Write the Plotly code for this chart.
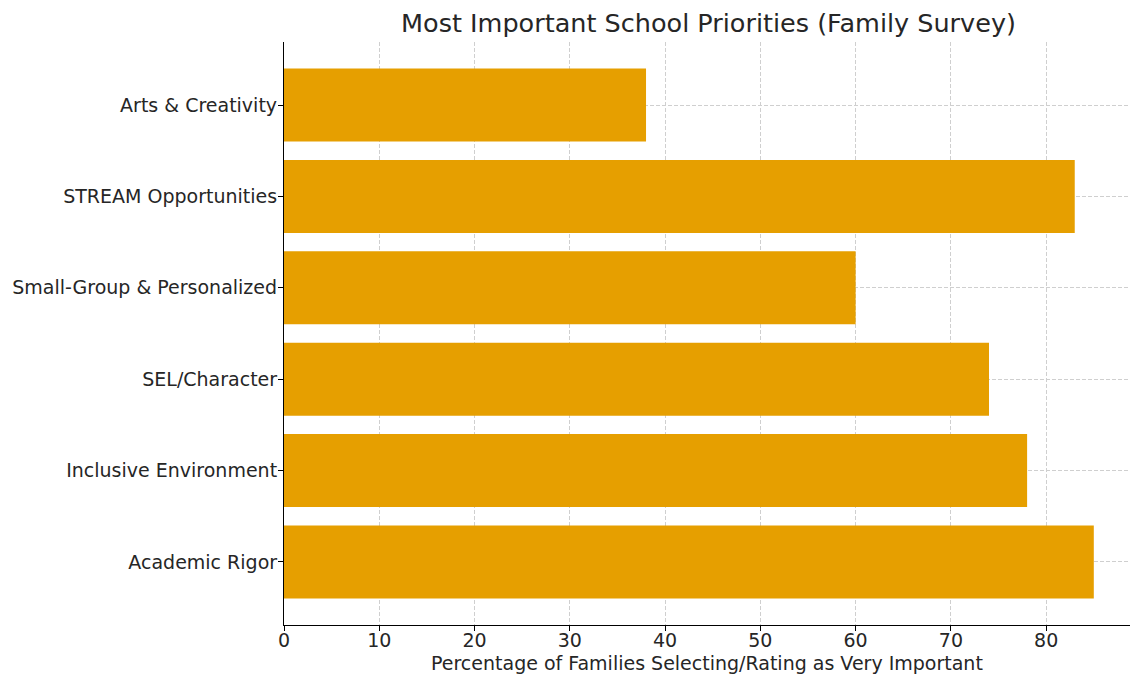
import plotly.graph_objects as go

# Survey priorities (bottom to top as drawn)
categories = [
    "Academic Rigor",
    "Inclusive Environment",
    "SEL/Character",
    "Small-Group & Personalized",
    "STREAM Opportunities",
    "Arts & Creativity",
]
percentages = [85, 78, 74, 60, 83, 38]

bar_color = "#E69F00"
font_family = "DejaVu Sans, Verdana, sans-serif"
grid_color = "#cfcfcf"

fig = go.Figure(
    go.Bar(
        x=percentages,
        y=categories,
        orientation="h",
        width=0.8,
        marker=dict(color=bar_color, line=dict(width=0)),
        hoverinfo="x+y",
    )
)

fig.update_layout(
    width=1130,
    height=677,
    margin=dict(l=284, r=0, t=42, b=52),
    paper_bgcolor="white",
    plot_bgcolor="white",
    showlegend=False,
    font=dict(family=font_family, color="#262626"),
    title=dict(
        text="Most Important School Priorities (Family Survey)",
        x=0.627,
        xanchor="center",
        y=0.966,
        yanchor="middle",
        font=dict(size=25.5, family=font_family, color="#262626"),
    ),
    # x-axis caption placed below the tick labels
    annotations=[
        dict(
            text="Percentage of Families Selecting/Rating as Very Important",
            xref="paper",
            yref="paper",
            x=0.5,
            y=-0.066,
            xanchor="center",
            yanchor="middle",
            showarrow=False,
            font=dict(size=19, family=font_family, color="#262626"),
        )
    ],
)

fig.update_xaxes(
    range=[0, 88.8],
    tick0=0,
    dtick=10,
    showgrid=True,
    gridcolor=grid_color,
    griddash="4px,2px",
    gridwidth=1,
    zeroline=False,
    showline=True,
    linecolor="black",
    linewidth=1.2,
    ticks="outside",
    ticklen=5,
    tickcolor="black",
    tickfont=dict(size=19),
    ticklabelstandoff=-7,
)

fig.update_yaxes(
    range=[-0.69, 5.69],
    showgrid=True,
    gridcolor=grid_color,
    griddash="4px,2px",
    gridwidth=1,
    zeroline=False,
    showline=True,
    linecolor="black",
    linewidth=1.2,
    ticks="outside",
    ticklen=5,
    tickcolor="black",
    tickfont=dict(size=19),
    ticklabelstandoff=-3,
)

fig.write_html("out.html")
